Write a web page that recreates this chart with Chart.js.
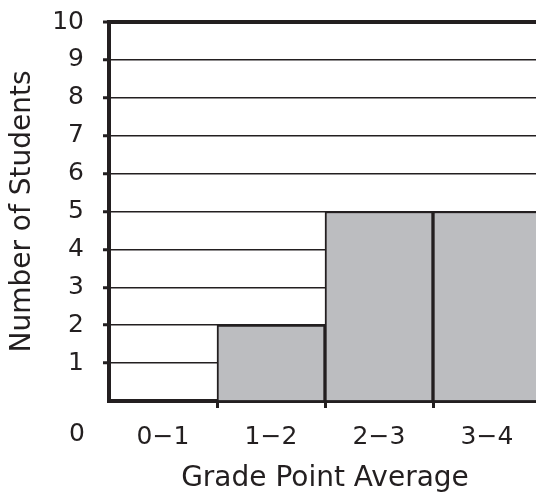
<!DOCTYPE html>
<html>
<head>
<meta charset="utf-8">
<script src="https://cdn.jsdelivr.net/npm/chart.js@4"></script>
<style>
  html, body { margin: 0; padding: 0; background: #fff; overflow: hidden; }
  #wrap { width: 541px; height: 492px; }
</style>
</head>
<body>
<div id="wrap"><canvas id="myChart" width="541" height="492"></canvas></div>
<script>
var categories = ['0−1', '1−2', '2−3', '3−4'];
var students = [0, 2, 5, 5];
var yTicks = [0, 1, 2, 3, 4, 5, 6, 7, 8, 9, 10];

var FONT = 'DejaVu Sans';
var INK = '#231f20';
var CLEAR = 'rgba(0,0,0,0)';

// the lone "0" sits on the category label row, left of the axis
var zeroLabel = {
    id: 'zeroLabel',
    afterDraw: function (chart) {
        var ctx = chart.ctx;
        var x = chart.scales.x;
        ctx.save();
        ctx.fillStyle = INK;
        ctx.font = '25px ' + FONT;
        ctx.textAlign = 'center';
        ctx.textBaseline = 'middle';
        ctx.fillText('0', 77, x.top + 33);
        ctx.restore();
    }
};

var ctx = document.getElementById('myChart').getContext('2d');
var myChart = new Chart(ctx, {
    type: 'bar',
    data: {
        labels: categories,
        datasets: [{
            label: 'Number of Students',
            data: students,
            backgroundColor: '#bcbdc0',
            borderColor: INK,
            borderWidth: 2,
            categoryPercentage: 1.0,
            barPercentage: 1.0
        }]
    },
    plugins: [zeroLabel],
    options: {
        responsive: false,
        animation: false,
        layout: { padding: { top: 22, right: 0, left: 0, bottom: 0 } },
        plugins: {
            legend: { display: false },
            tooltip: { enabled: false }
        },
        scales: {
            x: {
                offset: true,
                grid: {
                    offset: true,
                    drawOnChartArea: false,
                    drawTicks: true,
                    tickLength: 7,
                    lineWidth: 3,
                    color: function (c) { return c.index === 0 ? CLEAR : INK; }
                },
                border: { display: true, color: INK, width: 4 },
                ticks: {
                    color: INK,
                    font: { family: FONT, size: 25 },
                    padding: 14,
                    maxRotation: 0
                },
                title: {
                    display: true,
                    text: 'Grade Point Average',
                    color: INK,
                    font: { family: FONT, size: 28 },
                    padding: { top: 0, bottom: -4 }
                },
                afterFit: function (scale) {
                    scale.height = 91;
                    scale.paddingLeft = 0;
                    scale.paddingRight = 0;
                }
            },
            y: {
                min: 0,
                max: 10,
                afterBuildTicks: function (scale) {
                    scale.ticks = yTicks.map(function (v) { return { value: v }; });
                },
                grid: {
                    color: INK,
                    lineWidth: function (c) { return c.tick && c.tick.value === 10 ? 4 : 1.5; },
                    tickLength: 6,
                    tickWidth: 3,
                    tickColor: function (c) { return c.tick && c.tick.value === 0 ? CLEAR : INK; }
                },
                border: { display: true, color: INK, width: 4 },
                ticks: {
                    color: INK,
                    font: { family: FONT, size: 25 },
                    padding: 19,
                    callback: function (v) { return v === 0 ? '' : v; }
                },
                title: {
                    display: true,
                    text: 'Number of Students',
                    color: INK,
                    font: { family: FONT, size: 28 },
                    padding: { top: 6, bottom: 4 }
                },
                afterFit: function (scale) {
                    scale.width = 109;
                    scale.paddingTop = 0;
                    scale.paddingBottom = 0;
                }
            }
        }
    }
});
</script>
</body>
</html>
